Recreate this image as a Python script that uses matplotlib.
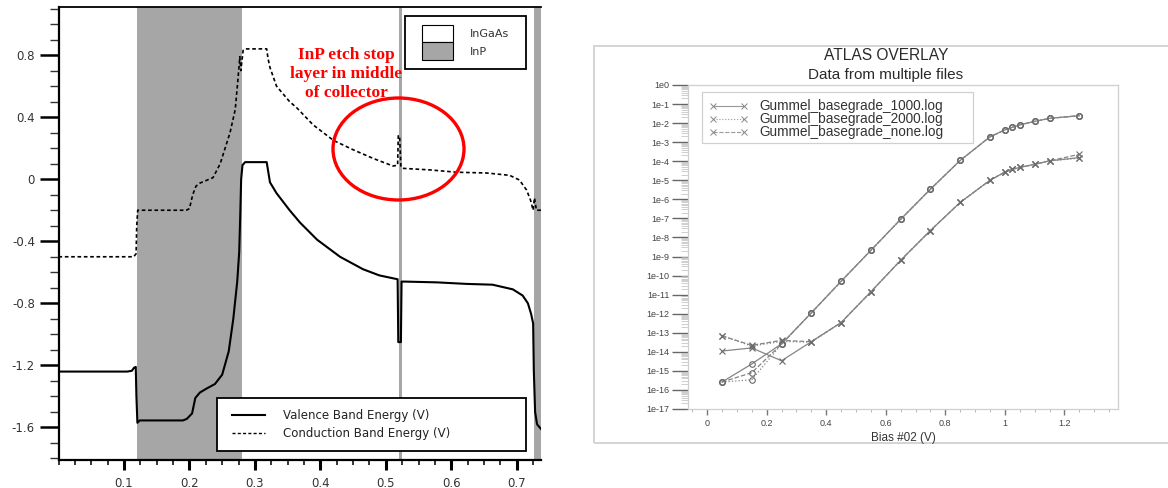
import matplotlib
matplotlib.use("Agg")
import matplotlib.pyplot as plt
from matplotlib.patches import Rectangle, Ellipse
from matplotlib.lines import Line2D
from matplotlib.ticker import FixedLocator, MultipleLocator, LogLocator, NullFormatter
import numpy as np

W, H, DPI = 1168, 488, 100

# ---------------- left panel data (band diagram) ----------------
cb_x = [0.0, 0.115, 0.1185, 0.1195, 0.121, 0.195, 0.2, 0.205, 0.21, 0.216, 0.236,
        0.247, 0.262, 0.27, 0.274, 0.277, 0.2785, 0.282, 0.285, 0.318, 0.32, 0.323,
        0.333, 0.353, 0.364, 0.389, 0.42, 0.45, 0.48, 0.511, 0.518, 0.519, 0.521,
        0.523, 0.526, 0.567, 0.608, 0.654, 0.689, 0.704, 0.715, 0.721, 0.725, 0.727,
        0.73, 0.737]
cb_y = [-0.5, -0.5, -0.48, -0.3, -0.2, -0.2, -0.19, -0.1, -0.045, -0.025, 0.01,
        0.10, 0.30, 0.45, 0.64, 0.79, 0.70, 0.83, 0.84, 0.84, 0.78, 0.72,
        0.60, 0.50, 0.46, 0.35, 0.25, 0.19, 0.135, 0.085, 0.09, 0.28, 0.28,
        0.08, 0.07, 0.06, 0.045, 0.04, 0.025, -0.005, -0.07, -0.135, -0.2, -0.12,
        -0.2, -0.2]

vb_x = [0.0, 0.105, 0.112, 0.1155, 0.118, 0.119, 0.1205, 0.124, 0.19, 0.196, 0.204,
        0.209, 0.216, 0.226, 0.239, 0.25, 0.26, 0.267, 0.273, 0.276, 0.2775, 0.279,
        0.281, 0.285, 0.318, 0.323, 0.333, 0.353, 0.369, 0.395, 0.43, 0.465, 0.49,
        0.518, 0.519, 0.523, 0.524, 0.529, 0.578, 0.624, 0.663, 0.694, 0.709, 0.717,
        0.722, 0.725, 0.726, 0.728, 0.731, 0.737]
vb_y = [-1.24, -1.24, -1.235, -1.215, -1.21, -1.4, -1.57, -1.555, -1.555, -1.545, -1.51,
        -1.41, -1.375, -1.35, -1.32, -1.26, -1.11, -0.9, -0.66, -0.47, -0.25, 0.0,
        0.09, 0.11, 0.11, -0.02, -0.09, -0.2, -0.28, -0.39, -0.5, -0.58, -0.62,
        -0.645, -1.05, -1.05, -0.66, -0.66, -0.665, -0.675, -0.68, -0.71, -0.75, -0.80,
        -0.87, -0.93, -1.23, -1.5, -1.58, -1.61]

inp_regions = [(0.12, 0.28), (0.5205, 0.5245), (0.727, 0.737)]
left_xticks = [0.1, 0.2, 0.3, 0.4, 0.5, 0.6, 0.7]
left_xticklabels = ["0.1", "0.2", "0.3", "0.4", "0.5", "0.6", "0.7"]
left_yticks = [-1.6, -1.2, -0.8, -0.4, 0.0, 0.4, 0.8]
left_yticklabels = ["-1.6", "-1.2", "-0.8", "-0.4", "0", "0.4", "0.8"]
material_labels = ["InGaAs", "InP"]
band_labels = ["Valence Band Energy (V)", "Conduction Band Energy (V)"]
annotation = "InP etch stop\nlayer in middle\nof collector"

# ---------------- right panel data (Gummel plot) ----------------
bias = [0.05, 0.15, 0.25, 0.35, 0.45, 0.55, 0.65, 0.75, 0.85, 0.95, 1.0, 1.025,
        1.05, 1.1, 1.15, 1.25]
ic_1000 = [2.6e-16, 2.3e-15, 2.6e-14, 1.1e-12, 5.0e-11, 2.1e-9, 8.9e-8, 3.4e-6,
           1.1e-4, 1.9e-3, 4.4e-3, 6.0e-3, 8.1e-3, 1.23e-2, 1.78e-2, 2.45e-2]
ib_1000 = [1.1e-14, 1.6e-14, 3.4e-15, 3.4e-14, 3.4e-13, 1.4e-11, 6.3e-10, 2.3e-8,
           6.9e-7, 1.0e-5, 2.7e-5, 3.8e-5, 4.7e-5, 6.9e-5, 1.05e-4, 1.55e-4]
ic_2000 = [2.6e-16, 3.4e-16, 2.5e-14, 1.1e-12, 5.0e-11, 2.1e-9, 8.9e-8, 3.4e-6,
           1.1e-4, 1.9e-3, 4.4e-3, 6.0e-3, 8.1e-3, 1.23e-2, 1.78e-2, 2.45e-2]
ib_2000 = [6.9e-14, 2.0e-14, 3.5e-14, 3.2e-14, 3.4e-13, 1.4e-11, 6.3e-10, 2.3e-8,
           6.9e-7, 1.0e-5, 2.7e-5, 3.8e-5, 4.7e-5, 6.9e-5, 1.05e-4, 1.45e-4]
ic_none = [2.6e-16, 8.0e-16, 2.5e-14, 1.1e-12, 5.0e-11, 2.1e-9, 8.9e-8, 3.4e-6,
           1.1e-4, 1.9e-3, 4.4e-3, 6.0e-3, 8.1e-3, 1.23e-2, 1.78e-2, 2.45e-2]
ib_none = [6.9e-14, 2.2e-14, 4.0e-14, 3.4e-14, 3.4e-13, 1.4e-11, 6.3e-10, 2.3e-8,
           6.9e-7, 1.0e-5, 2.7e-5, 3.8e-5, 4.7e-5, 6.9e-5, 1.05e-4, 2.3e-4]
series_names = ["Gummel_basegrade_1000.log", "Gummel_basegrade_2000.log",
                "Gummel_basegrade_none.log"]
right_xticks = [0, 0.2, 0.4, 0.6, 0.8, 1.0, 1.2]
right_xticklabels = ["0", "0.2", "0.4", "0.6", "0.8", "1", "1.2"]
right_decades = list(range(0, -18, -1))
right_title = "ATLAS OVERLAY"
right_subtitle = "Data from multiple files"
right_xlabel = "Bias #02 (V)"

# ---------------- figure ----------------
fig = plt.figure(figsize=(W / DPI, H / DPI), dpi=DPI)
fig.patch.set_facecolor("white")


def fx(px):
    return px / W


def fy(py):
    return 1 - py / H


# ======== left panel ========
axL = fig.add_axes([fx(58.5), fy(460), (541 - 58.5) / W, (460 - 7) / H])
axL.set_xlim(0, 0.737)
axL.set_ylim(-1.81, 1.11)
for a, b in inp_regions:
    axL.axvspan(a, b, color="#a6a6a6", lw=0, zorder=0)
axL.plot(vb_x, vb_y, color="black", lw=1.5, zorder=3)
axL.plot(cb_x, cb_y, color="black", lw=1.2, ls=(0, (2.2, 1.6)), zorder=3)

axL.spines["right"].set_visible(False)
axL.spines["left"].set_linewidth(1.6)
axL.spines["bottom"].set_linewidth(1.6)
axL.spines["top"].set_linewidth(1.3)
axL.xaxis.set_major_locator(FixedLocator(left_xticks))
axL.set_xticklabels(left_xticklabels)
axL.xaxis.set_minor_locator(MultipleLocator(0.025))
axL.yaxis.set_major_locator(FixedLocator(left_yticks))
axL.set_yticklabels(left_yticklabels)
axL.yaxis.set_minor_locator(MultipleLocator(0.1))
axL.tick_params(axis="y", which="major", direction="out", length=13.5, width=1.8,
                pad=3.5, labelsize=8.5, labelcolor="#333333")
axL.tick_params(axis="y", which="minor", direction="out", length=6.5, width=1.0,
                color="#333333")
axL.tick_params(axis="x", which="major", direction="out", length=7, width=2.2,
                pad=5, labelsize=8.5, labelcolor="#333333")
axL.tick_params(axis="x", which="minor", direction="out", length=3.8, width=1.1)
for lab in axL.get_xticklabels() + axL.get_yticklabels():
    lab.set_family("DejaVu Sans")

# material legend (top right)
fig.add_artist(Rectangle((fx(405), fy(69)), 121 / W, 53 / H, transform=fig.transFigure,
                         fc="white", ec="black", lw=1.3, zorder=5))
fig.add_artist(Rectangle((fx(422), fy(42)), 31 / W, 17 / H, transform=fig.transFigure,
                         fc="white", ec="black", lw=0.8, zorder=6))
fig.add_artist(Rectangle((fx(422), fy(60)), 31 / W, 18 / H, transform=fig.transFigure,
                         fc="#a6a6a6", ec="black", lw=0.8, zorder=6))
fig.text(fx(470), fy(34), material_labels[0], fontsize=8, family="DejaVu Sans",
         color="#333333", va="center", ha="left", zorder=7)
fig.text(fx(470), fy(52), material_labels[1], fontsize=8, family="DejaVu Sans",
         color="#333333", va="center", ha="left", zorder=7)

# band legend (bottom)
fig.add_artist(Rectangle((fx(217), fy(451)), 309 / W, 53 / H, transform=fig.transFigure,
                         fc="white", ec="black", lw=1.3, zorder=5))
fig.add_artist(Line2D([fx(232), fx(265)], [fy(415), fy(415)], transform=fig.transFigure,
                      color="black", lw=1.5, zorder=6))
fig.add_artist(Line2D([fx(232), fx(265)], [fy(433), fy(433)], transform=fig.transFigure,
                      color="black", lw=1.0, ls=(0, (2.2, 1.6)), zorder=6))
fig.text(fx(283), fy(415), band_labels[0], fontsize=8.5, family="DejaVu Sans",
         color="#222222", va="center", ha="left", zorder=7)
fig.text(fx(283), fy(433), band_labels[1], fontsize=8.5, family="DejaVu Sans",
         color="#222222", va="center", ha="left", zorder=7)

# red annotation
fig.text(fx(346), fy(74), annotation, fontsize=12.5, family="Liberation Serif",
         weight="bold", color="red", ha="center", va="center", linespacing=1.27,
         zorder=8)
fig.add_artist(Ellipse((fx(398.5), fy(149)), 131 / W, 102 / H, transform=fig.transFigure,
                       fill=False, ec="red", lw=2.4, zorder=8))

# ======== right panel ========
fig.add_artist(Rectangle((fx(594), fy(443)), (1175 - 594) / W, (443 - 46) / H,
                         transform=fig.transFigure, fill=False, ec="#d4d4d4", lw=1.4,
                         zorder=1))
axR = fig.add_axes([fx(688), fy(409), (1118 - 688) / W, (409 - 85) / H])
axR.set_yscale("log")
axR.set_xlim(-0.064, 1.38)
axR.set_ylim(1e-17, 1.0)

gray = "#858585"
styles = ["-", ":", "--"]
ic_sets = [ic_1000, ic_2000, ic_none]
ib_sets = [ib_1000, ib_2000, ib_none]
for ls, ic, ib in zip(styles, ic_sets, ib_sets):
    axR.plot(bias, ic, color=gray, lw=0.9, ls=ls, marker="o", ms=4, mfc="none",
             mec="#6a6a6a", mew=0.8)
    axR.plot(bias, ib, color=gray, lw=0.9, ls=ls, marker="x", ms=5, mec="#6a6a6a",
             mew=0.8)

for sp in axR.spines.values():
    sp.set_color("#cfcfcf")
    sp.set_linewidth(0.9)
axR.yaxis.set_major_locator(FixedLocator([10.0 ** d for d in right_decades]))
axR.set_yticklabels(["1e%d" % d for d in right_decades])
axR.yaxis.set_minor_locator(LogLocator(base=10, subs=np.arange(2, 10), numticks=200))
axR.yaxis.set_minor_formatter(NullFormatter())
axR.xaxis.set_major_locator(FixedLocator(right_xticks))
axR.set_xticklabels(right_xticklabels)
axR.xaxis.set_minor_locator(MultipleLocator(0.05))
axR.tick_params(axis="y", which="major", direction="out", length=11.5, width=1.0,
                color="#666666", pad=2, labelsize=6.5, labelcolor="#444444")
axR.tick_params(axis="y", which="minor", direction="out", length=5, width=0.5,
                color="#bbbbbb")
axR.tick_params(axis="x", which="major", direction="out", length=4.5, width=1.0,
                color="#777777", pad=3, labelsize=6.5, labelcolor="#444444")
axR.tick_params(axis="x", which="minor", direction="out", length=2.5, width=0.6,
                color="#aaaaaa")
for lab in axR.get_xticklabels() + axR.get_yticklabels():
    lab.set_family("Liberation Sans")

fig.text(fx(886), fy(56), right_title, fontsize=11.2, family="Liberation Sans",
         color="#2a2a2a", ha="center", va="center")
fig.text(fx(886), fy(75), right_subtitle, fontsize=11, family="Liberation Sans",
         color="#2a2a2a", ha="center", va="center")
fig.text(fx(903), fy(438), right_xlabel, fontsize=8.5, family="Liberation Sans",
         color="#333333", ha="center", va="center")

# right legend
fig.add_artist(Rectangle((fx(702), fy(143)), (973 - 702) / W, (143 - 92) / H,
                         transform=fig.transFigure, fc="white", ec="#d0d0d0", lw=0.9,
                         zorder=5))
for i, (name, ls) in enumerate(zip(series_names, styles)):
    yy = 106 + 13 * i
    fig.add_artist(Line2D([fx(713), fx(744)], [fy(yy), fy(yy)], transform=fig.transFigure,
                          color="#999999", lw=0.8, ls=ls, marker="x", ms=4,
                          mec="#888888", mew=0.7, zorder=6))
    fig.text(fx(759), fy(yy), name, fontsize=9.8, family="Liberation Sans",
             color="#333333", ha="left", va="center", zorder=7)

fig.savefig("out.png", dpi=DPI, facecolor="white")
